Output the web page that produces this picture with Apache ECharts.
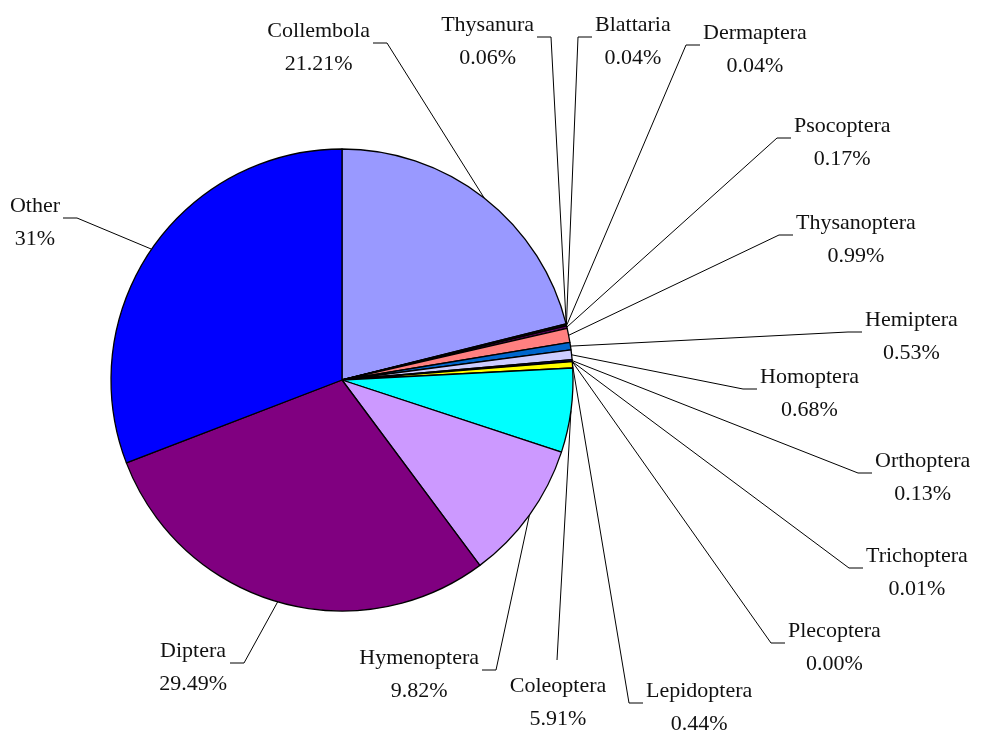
<!DOCTYPE html>
<html>
<head>
<meta charset="utf-8">
<title>Insect orders</title>
<script src="https://cdn.jsdelivr.net/npm/echarts@6/dist/echarts.min.js"></script>
<style>
  html, body { margin: 0; padding: 0; background: #fff; }
  #chart { width: 981px; height: 735px; }
</style>
</head>
<body>
<div id="chart"></div>
<script>
// Orders, clockwise from 12 o'clock
const orders = ['Collembola', 'Thysanura', 'Blattaria', 'Dermaptera', 'Psocoptera',
  'Thysanoptera', 'Hemiptera', 'Homoptera', 'Orthoptera', 'Trichoptera', 'Plecoptera',
  'Lepidoptera', 'Coleoptera', 'Hymenoptera', 'Diptera', 'Other'];

// Share of individuals per order (%), as printed
const shares = ['21.21', '0.06', '0.04', '0.04', '0.17', '0.99', '0.53', '0.68', '0.13',
  '0.01', '0.00', '0.44', '5.91', '9.82', '29.49', '31'];

// Slice fills
const fills = ['#9999FF', '#993366', '#FFFFCC', '#CCFFFF', '#660066', '#FF8080', '#0066CC',
  '#CCCCFF', '#000080', '#FF00FF', '#800000', '#FFFF00', '#00FFFF', '#CC99FF', '#800080', '#0000FF'];

// Where each leader line meets its label: [x, y, side]
// side: 1 = text to the right, -1 = text to the left, 0 = text below
const labelEnds = [
  [373, 43, -1], [537, 37, -1], [592, 37, 1], [700, 45, 1], [791, 138, 1],
  [793, 235, 1], [862, 332, 1], [757, 389, 1], [872, 473, 1], [863, 568, 1],
  [785, 643, 1], [643, 703, 1], [557, 660, 0], [482, 670, -1], [230, 663, -1],
  [63, 218, -1]
];

const KNEE = 14;   // horizontal run of the leader next to the label
const GAP = 3;     // space between leader end and text

const chart = echarts.init(document.getElementById('chart'), null, { renderer: 'canvas' });

chart.setOption({
  animation: false,
  backgroundColor: '#ffffff',
  series: [{
    type: 'pie',
    center: [342, 380],
    radius: 231,
    startAngle: 90,
    clockwise: true,
    avoidLabelOverlap: false,
    minShowLabelAngle: 0,
    itemStyle: { borderColor: '#000', borderWidth: 1.3 },
    emphasis: { disabled: true },
    data: orders.map((name, i) => ({
      name: name,
      value: Number(shares[i]),
      itemStyle: { color: fills[i] }
    })),
    label: {
      show: true,
      position: 'outside',
      formatter: p => p.name + '\n' + shares[p.dataIndex] + '%',
      fontFamily: '"Liberation Serif", "DejaVu Serif", serif',
      fontSize: 22,
      lineHeight: 33,
      color: '#111'
    },
    labelLine: {
      show: true,
      length: 10,
      length2: 10,
      smooth: false,
      lineStyle: { color: '#000', width: 1 }
    },
    labelLayout: function (params) {
      const e = labelEnds[params.dataIndex];
      const w = params.labelRect.width;
      const h = params.labelRect.height;
      const start = params.labelLinePoints ? params.labelLinePoints[0] : [e[0], e[1]];
      let x, y, pts;
      if (e[2] === 0) {
        x = e[0] + 1;
        y = e[1] + 10 + h / 2;
        pts = [start, [e[0], e[1]]];
      } else {
        x = e[0] + e[2] * (GAP + w / 2);
        y = e[1] + 5;
        pts = [start, [e[0] - e[2] * KNEE, e[1]], [e[0], e[1]]];
      }
      return {
        x: x,
        y: y,
        align: 'center',
        verticalAlign: 'middle',
        labelLinePoints: pts
      };
    }
  }]
});
</script>
</body>
</html>
